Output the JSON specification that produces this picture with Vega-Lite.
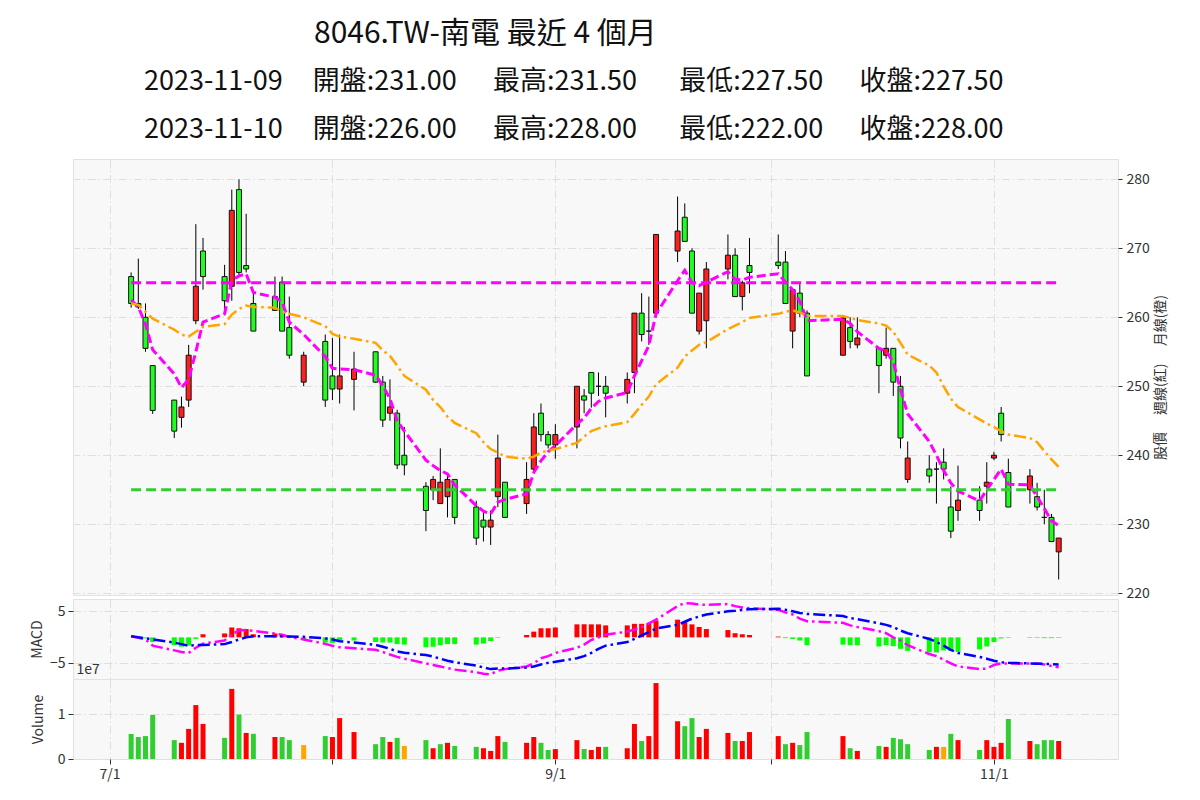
{
"$schema": "https://vega.github.io/schema/vega-lite/v6.json",
"background": "white",
"padding": {"left": 29, "top": 18, "right": 5, "bottom": 5},
"spacing": 4,
"bounds": "flush",
"resolve": {"scale": {"color": "independent"}},
"config": {
  "font": "Noto Sans CJK TC",
  "view": {"fill": "#f8f8f8", "stroke": "#e2e2e2"},
  "axis": {"gridColor": "#dedede", "gridDash": [8, 3, 1.5, 3], "gridWidth": 1, "labelFont": "Noto Sans CJK TC", "labelFontSize": 14, "labelColor": "#333333", "tickColor": "#333333", "tickSize": 5, "labelPadding": 3, "domain": false, "titleFont": "Noto Sans CJK TC", "titleFontWeight": "normal", "titleFontSize": 14, "titleColor": "#333333"},
  "concat": {"spacing": 0}
},
"title": {"text": "8046.TW-南電 最近 4 個月", "font": "Noto Sans CJK TC", "fontSize": 30, "fontWeight": "normal", "color": "#111111", "anchor": "start", "frame": "group", "dx": 241, "offset": 19},
"datasets": {
"k": [
{"d":"2023-07-04","o":265.9,"h":266.5,"l":261.4,"c":262.0,"v":5560000,"dir":"down","ma5":262.5,"ma20":262.0,"dif":0.2,"sig":0.2,"osc":0.0},
{"d":"2023-07-05","o":262.0,"h":268.5,"l":261.2,"c":261.5,"v":4900000,"dir":"down","ma5":261.5,"ma20":261.8,"dif":-0.1,"sig":0.0,"osc":-0.1},
{"d":"2023-07-06","o":260.0,"h":262.0,"l":255.0,"c":255.5,"v":5100000,"dir":"down","ma5":259.0,"ma20":260.8,"dif":-0.4,"sig":-0.2,"osc":-0.2},
{"d":"2023-07-07","o":253.0,"h":253.0,"l":246.0,"c":246.5,"v":9800000,"dir":"down","ma5":255.3,"ma20":259.8,"dif":-1.6,"sig":-0.4,"osc":-0.9},
{"d":"2023-07-10","o":248.0,"h":248.0,"l":242.5,"c":243.5,"v":4200000,"dir":"down","ma5":251.8,"ma20":258.2,"dif":-2.5,"sig":-1.0,"osc":-1.5},
{"d":"2023-07-11","o":245.5,"h":248.5,"l":244.0,"c":247.0,"v":3600000,"dir":"up","ma5":249.8,"ma20":257.5,"dif":-2.8,"sig":-1.3,"osc":-1.8},
{"d":"2023-07-12","o":248.0,"h":256.0,"l":247.0,"c":254.5,"v":6700000,"dir":"up","ma5":251.0,"ma20":257.2,"dif":-3.0,"sig":-1.6,"osc":-1.6},
{"d":"2023-07-13","o":259.5,"h":273.5,"l":259.0,"c":264.5,"v":12000000,"dir":"up","ma5":255.0,"ma20":257.9,"dif":-2.0,"sig":-1.5,"osc":-0.3},
{"d":"2023-07-14","o":269.6,"h":271.5,"l":264.0,"c":265.9,"v":7800000,"dir":"up","ma5":259.3,"ma20":258.6,"dif":-1.2,"sig":-1.45,"osc":0.6},
{"d":"2023-07-17","o":265.9,"h":267.6,"l":261.2,"c":262.4,"v":4700000,"dir":"down","ma5":260.5,"ma20":259.0,"dif":-0.6,"sig":-1.3,"osc":0.75},
{"d":"2023-07-18","o":264.5,"h":278.5,"l":262.4,"c":275.5,"v":15600000,"dir":"up","ma5":265.3,"ma20":260.4,"dif":0.6,"sig":-0.9,"osc":1.9},
{"d":"2023-07-19","o":278.5,"h":280.0,"l":266.0,"c":266.5,"v":9900000,"dir":"down","ma5":266.0,"ma20":261.2,"dif":1.3,"sig":-0.4,"osc":1.75},
{"d":"2023-07-20","o":267.5,"h":275.0,"l":266.5,"c":267.0,"v":5800000,"dir":"up","ma5":266.3,"ma20":261.7,"dif":1.4,"sig":0.0,"osc":1.6},
{"d":"2023-07-21","o":262.0,"h":264.0,"l":258.0,"c":258.0,"v":5600000,"dir":"down","ma5":263.6,"ma20":261.5,"dif":1.25,"sig":0.2,"osc":0.6},
{"d":"2023-07-24","o":263.0,"h":265.9,"l":261.0,"c":261.0,"v":4900000,"dir":"up","ma5":262.9,"ma20":261.4,"dif":0.75,"sig":0.2,"osc":0.75},
{"d":"2023-07-25","o":265.1,"h":265.9,"l":258.0,"c":258.0,"v":4900000,"dir":"down","ma5":262.2,"ma20":260.8,"dif":0.5,"sig":0.2,"osc":0.6},
{"d":"2023-07-26","o":258.5,"h":263.0,"l":254.0,"c":254.5,"v":4200000,"dir":"down","ma5":259.3,"ma20":260.5,"dif":0.1,"sig":0.15,"osc":0.05},
{"d":"2023-07-28","o":250.6,"h":255.0,"l":250.0,"c":254.5,"v":3100000,"dir":"flat","ma5":257.5,"ma20":260.0,"dif":-0.4,"sig":0.1,"osc":-0.45},
{"d":"2023-07-31","o":256.5,"h":257.5,"l":247.0,"c":248.0,"v":5100000,"dir":"down","ma5":254.3,"ma20":258.7,"dif":-1.25,"sig":-0.2,"osc":-1.0},
{"d":"2023-08-01","o":251.5,"h":257.0,"l":248.0,"c":249.6,"v":4900000,"dir":"up","ma5":252.6,"ma20":257.6,"dif":-1.6,"sig":-0.4,"osc":-1.1},
{"d":"2023-08-02","o":249.6,"h":257.5,"l":247.5,"c":251.5,"v":9100000,"dir":"up","ma5":252.5,"ma20":257.2,"dif":-1.9,"sig":-0.75,"osc":-0.9},
{"d":"2023-08-04","o":251.0,"h":255.0,"l":246.5,"c":252.5,"v":6000000,"dir":"up","ma5":252.4,"ma20":256.9,"dif":-2.1,"sig":-1.0,"osc":-0.6},
{"d":"2023-08-07","o":255.0,"h":255.0,"l":250.5,"c":250.6,"v":3300000,"dir":"down","ma5":251.6,"ma20":256.3,"dif":-2.4,"sig":-1.45,"osc":-0.9},
{"d":"2023-08-08","o":250.6,"h":251.5,"l":244.1,"c":245.1,"v":4900000,"dir":"down","ma5":250.1,"ma20":255.2,"dif":-2.8,"sig":-1.8,"osc":-1.0},
{"d":"2023-08-09","o":246.1,"h":251.0,"l":245.0,"c":247.0,"v":3800000,"dir":"up","ma5":248.2,"ma20":254.4,"dif":-3.3,"sig":-2.2,"osc":-1.0},
{"d":"2023-08-10","o":246.1,"h":246.6,"l":238.0,"c":238.6,"v":4700000,"dir":"down","ma5":245.0,"ma20":253.0,"dif":-3.75,"sig":-2.7,"osc":-1.3},
{"d":"2023-08-11","o":240.0,"h":244.1,"l":237.1,"c":238.6,"v":2900000,"dir":"flat","ma5":243.5,"ma20":251.5,"dif":-4.1,"sig":-2.95,"osc":-1.4},
{"d":"2023-08-14","o":235.5,"h":236.1,"l":229.0,"c":232.0,"v":4200000,"dir":"down","ma5":239.3,"ma20":249.5,"dif":-5.0,"sig":-3.4,"osc":-1.9},
{"d":"2023-08-15","o":235.0,"h":237.0,"l":233.5,"c":236.5,"v":2400000,"dir":"up","ma5":238.5,"ma20":248.0,"dif":-5.3,"sig":-3.7,"osc":-1.8},
{"d":"2023-08-16","o":233.0,"h":241.0,"l":233.0,"c":236.1,"v":3300000,"dir":"down","ma5":237.8,"ma20":247.0,"dif":-5.6,"sig":-4.1,"osc":-1.5},
{"d":"2023-08-17","o":234.0,"h":237.0,"l":231.0,"c":236.5,"v":3600000,"dir":"up","ma5":237.3,"ma20":245.6,"dif":-5.9,"sig":-4.5,"osc":-1.3},
{"d":"2023-08-18","o":236.5,"h":236.5,"l":230.0,"c":231.0,"v":2900000,"dir":"down","ma5":235.7,"ma20":244.7,"dif":-6.2,"sig":-4.8,"osc":-1.3},
{"d":"2023-08-21","o":232.5,"h":233.4,"l":227.0,"c":228.0,"v":2700000,"dir":"down","ma5":232.7,"ma20":243.2,"dif":-6.7,"sig":-5.4,"osc":-1.4},
{"d":"2023-08-22","o":230.6,"h":232.0,"l":227.5,"c":229.6,"v":2400000,"dir":"up","ma5":231.9,"ma20":241.9,"dif":-7.0,"sig":-5.8,"osc":-1.2},
{"d":"2023-08-23","o":229.6,"h":232.0,"l":227.0,"c":230.6,"v":1800000,"dir":"up","ma5":231.5,"ma20":240.9,"dif":-7.1,"sig":-6.1,"osc":-0.7},
{"d":"2023-08-24","o":234.0,"h":243.0,"l":232.5,"c":239.6,"v":5100000,"dir":"up","ma5":233.2,"ma20":240.4,"dif":-6.4,"sig":-6.0,"osc":-0.1},
{"d":"2023-08-25","o":236.1,"h":236.1,"l":231.0,"c":231.0,"v":3800000,"dir":"down","ma5":233.6,"ma20":239.8,"dif":-6.1,"sig":-6.0,"osc":0.0},
{"d":"2023-08-28","o":233.0,"h":239.0,"l":231.5,"c":236.5,"v":3600000,"dir":"up","ma5":234.4,"ma20":239.5,"dif":-5.6,"sig":-5.8,"osc":0.45},
{"d":"2023-08-29","o":238.0,"h":246.1,"l":237.5,"c":244.1,"v":4900000,"dir":"up","ma5":237.5,"ma20":239.8,"dif":-5.0,"sig":-5.6,"osc":1.1},
{"d":"2023-08-30","o":246.1,"h":247.5,"l":242.0,"c":243.0,"v":3600000,"dir":"down","ma5":239.2,"ma20":240.4,"dif":-4.0,"sig":-5.2,"osc":1.75},
{"d":"2023-08-31","o":243.0,"h":243.5,"l":241.0,"c":241.5,"v":2000000,"dir":"down","ma5":240.5,"ma20":240.7,"dif":-3.6,"sig":-4.9,"osc":1.75},
{"d":"2023-09-01","o":241.5,"h":244.5,"l":239.5,"c":243.0,"v":2200000,"dir":"up","ma5":241.4,"ma20":240.9,"dif":-3.0,"sig":-4.7,"osc":1.9},
{"d":"2023-09-04","o":244.1,"h":250.0,"l":241.0,"c":250.0,"v":4200000,"dir":"up","ma5":244.5,"ma20":241.8,"dif":-2.0,"sig":-4.0,"osc":2.5},
{"d":"2023-09-05","o":248.6,"h":249.6,"l":246.1,"c":248.0,"v":2200000,"dir":"down","ma5":245.4,"ma20":242.7,"dif":-1.4,"sig":-3.6,"osc":2.5},
{"d":"2023-09-06","o":252.0,"h":252.0,"l":246.9,"c":249.0,"v":2000000,"dir":"up","ma5":246.8,"ma20":243.5,"dif":-0.5,"sig":-3.0,"osc":2.5},
{"d":"2023-09-07","o":250.0,"h":252.0,"l":248.6,"c":250.0,"v":2700000,"dir":"up","ma5":247.8,"ma20":243.9,"dif":0.0,"sig":-2.2,"osc":2.5},
{"d":"2023-09-08","o":250.0,"h":251.5,"l":245.5,"c":249.0,"v":2700000,"dir":"down","ma5":248.3,"ma20":244.2,"dif":0.5,"sig":-1.6,"osc":2.3},
{"d":"2023-09-11","o":249.0,"h":252.0,"l":247.5,"c":251.0,"v":2400000,"dir":"up","ma5":249.1,"ma20":244.8,"dif":1.1,"sig":-0.9,"osc":2.3},
{"d":"2023-09-12","o":252.0,"h":260.6,"l":249.0,"c":260.6,"v":7800000,"dir":"up","ma5":251.5,"ma20":246.0,"dif":1.5,"sig":-0.3,"osc":2.6},
{"d":"2023-09-13","o":260.6,"h":263.5,"l":256.5,"c":257.5,"v":4000000,"dir":"down","ma5":253.7,"ma20":247.3,"dif":2.0,"sig":0.4,"osc":2.6},
{"d":"2023-09-14","o":258.0,"h":263.0,"l":256.0,"c":258.0,"v":5100000,"dir":"up","ma5":255.9,"ma20":248.5,"dif":2.7,"sig":1.0,"osc":2.75},
{"d":"2023-09-15","o":260.6,"h":272.0,"l":260.0,"c":272.0,"v":16900000,"dir":"up","ma5":260.5,"ma20":250.3,"dif":3.4,"sig":1.7,"osc":3.25},
{"d":"2023-09-18","o":269.6,"h":277.5,"l":268.0,"c":272.5,"v":8400000,"dir":"up","ma5":265.3,"ma20":252.7,"dif":6.0,"sig":2.4,"osc":3.4},
{"d":"2023-09-19","o":274.5,"h":276.5,"l":271.0,"c":271.0,"v":7300000,"dir":"down","ma5":266.8,"ma20":254.3,"dif":6.6,"sig":3.0,"osc":3.1},
{"d":"2023-09-20","o":269.6,"h":270.0,"l":260.6,"c":260.6,"v":9100000,"dir":"down","ma5":265.0,"ma20":255.2,"dif":6.5,"sig":3.6,"osc":2.5},
{"d":"2023-09-21","o":258.0,"h":263.5,"l":257.5,"c":263.5,"v":4900000,"dir":"up","ma5":264.6,"ma20":256.0,"dif":6.3,"sig":4.0,"osc":2.0},
{"d":"2023-09-22","o":259.5,"h":268.0,"l":255.5,"c":267.0,"v":6700000,"dir":"up","ma5":265.1,"ma20":256.4,"dif":6.25,"sig":4.4,"osc":1.6},
{"d":"2023-09-25","o":267.0,"h":272.0,"l":265.5,"c":269.0,"v":5800000,"dir":"up","ma5":266.6,"ma20":258.3,"dif":6.4,"sig":5.0,"osc":1.4},
{"d":"2023-09-26","o":269.0,"h":270.0,"l":263.0,"c":263.0,"v":4000000,"dir":"down","ma5":265.5,"ma20":258.8,"dif":6.0,"sig":5.1,"osc":0.8},
{"d":"2023-09-27","o":263.0,"h":265.3,"l":261.0,"c":265.0,"v":4000000,"dir":"up","ma5":265.4,"ma20":259.3,"dif":5.75,"sig":5.3,"osc":0.6},
{"d":"2023-09-28","o":267.5,"h":271.5,"l":263.5,"c":266.5,"v":6000000,"dir":"up","ma5":265.8,"ma20":259.9,"dif":5.6,"sig":5.4,"osc":0.45},
{"d":"2023-10-02","o":268.0,"h":272.0,"l":267.0,"c":267.5,"v":5100000,"dir":"up","ma5":266.3,"ma20":260.5,"dif":5.3,"sig":5.5,"osc":0.15},
{"d":"2023-10-03","o":268.0,"h":269.6,"l":262.0,"c":262.0,"v":3300000,"dir":"down","ma5":265.1,"ma20":260.8,"dif":4.8,"sig":5.3,"osc":-0.15},
{"d":"2023-10-04","o":258.0,"h":264.0,"l":255.5,"c":264.0,"v":3600000,"dir":"up","ma5":264.0,"ma20":261.0,"dif":4.4,"sig":5.0,"osc":-0.3},
{"d":"2023-10-05","o":263.5,"h":265.0,"l":260.0,"c":260.6,"v":3100000,"dir":"down","ma5":262.3,"ma20":260.7,"dif":3.6,"sig":4.7,"osc":-0.6},
{"d":"2023-10-06","o":260.6,"h":261.0,"l":251.5,"c":251.5,"v":6000000,"dir":"down","ma5":259.5,"ma20":260.2,"dif":3.1,"sig":4.5,"osc":-1.5},
{"d":"2023-10-11","o":254.5,"h":260.0,"l":254.5,"c":259.9,"v":5100000,"dir":"up","ma5":259.7,"ma20":260.2,"dif":2.8,"sig":4.1,"osc":-1.4},
{"d":"2023-10-12","o":258.5,"h":260.0,"l":255.5,"c":256.5,"v":2400000,"dir":"down","ma5":259.1,"ma20":259.9,"dif":2.3,"sig":3.7,"osc":-1.5},
{"d":"2023-10-13","o":256.0,"h":260.0,"l":255.5,"c":257.0,"v":1800000,"dir":"up","ma5":257.9,"ma20":259.6,"dif":2.0,"sig":3.5,"osc":-1.5},
{"d":"2023-10-16","o":255.5,"h":255.5,"l":249.0,"c":253.0,"v":2900000,"dir":"down","ma5":255.5,"ma20":259.1,"dif":1.2,"sig":2.7,"osc":-1.75},
{"d":"2023-10-17","o":254.5,"h":258.5,"l":254.0,"c":255.5,"v":2700000,"dir":"up","ma5":255.1,"ma20":258.8,"dif":0.8,"sig":2.4,"osc":-1.5},
{"d":"2023-10-18","o":255.5,"h":255.5,"l":248.6,"c":250.6,"v":4700000,"dir":"down","ma5":253.5,"ma20":257.9,"dif":0.0,"sig":2.0,"osc":-1.7},
{"d":"2023-10-19","o":250.0,"h":251.5,"l":241.0,"c":242.5,"v":4400000,"dir":"down","ma5":249.5,"ma20":256.3,"dif":-0.6,"sig":1.3,"osc":-2.2},
{"d":"2023-10-20","o":236.5,"h":242.0,"l":236.0,"c":239.6,"v":3300000,"dir":"down","ma5":246.0,"ma20":254.6,"dif":-1.5,"sig":0.8,"osc":-2.6},
{"d":"2023-10-23","o":238.0,"h":240.0,"l":236.0,"c":237.0,"v":2000000,"dir":"down","ma5":242.0,"ma20":253.0,"dif":-3.2,"sig":-0.3,"osc":-2.9},
{"d":"2023-10-24","o":238.0,"h":239.0,"l":233.0,"c":238.0,"v":2700000,"dir":"up","ma5":240.0,"ma20":252.0,"dif":-3.6,"sig":-0.9,"osc":-2.9},
{"d":"2023-10-25","o":239.0,"h":241.0,"l":236.5,"c":238.0,"v":2700000,"dir":"flat","ma5":237.8,"ma20":250.0,"dif":-4.3,"sig":-1.6,"osc":-2.5},
{"d":"2023-10-26","o":232.5,"h":235.5,"l":228.0,"c":229.0,"v":5600000,"dir":"down","ma5":236.0,"ma20":248.2,"dif":-5.0,"sig":-2.4,"osc":-2.6},
{"d":"2023-10-27","o":232.0,"h":238.5,"l":230.5,"c":233.5,"v":4200000,"dir":"up","ma5":234.8,"ma20":247.0,"dif":-5.6,"sig":-3.0,"osc":-2.8},
{"d":"2023-10-30","o":233.5,"h":235.5,"l":230.5,"c":232.0,"v":2000000,"dir":"down","ma5":233.4,"ma20":245.2,"dif":-6.1,"sig":-3.75,"osc":-2.3},
{"d":"2023-10-31","o":235.5,"h":239.0,"l":233.0,"c":236.1,"v":4200000,"dir":"up","ma5":235.0,"ma20":244.6,"dif":-6.0,"sig":-4.1,"osc":-1.75},
{"d":"2023-11-01","o":239.6,"h":240.5,"l":239.3,"c":240.0,"v":2700000,"dir":"up","ma5":236.5,"ma20":244.1,"dif":-5.3,"sig":-4.5,"osc":-0.9},
{"d":"2023-11-02","o":246.1,"h":247.0,"l":242.0,"c":243.0,"v":3600000,"dir":"up","ma5":238.0,"ma20":243.5,"dif":-5.0,"sig":-4.8,"osc":-0.2},
{"d":"2023-11-03","o":237.5,"h":239.5,"l":232.5,"c":232.5,"v":8900000,"dir":"down","ma5":235.8,"ma20":243.0,"dif":-5.0,"sig":-4.9,"osc":-0.1},
{"d":"2023-11-06","o":235.0,"h":238.0,"l":233.0,"c":237.0,"v":4000000,"dir":"up","ma5":235.7,"ma20":242.5,"dif":-5.0,"sig":-5.0,"osc":-0.1},
{"d":"2023-11-07","o":234.0,"h":236.0,"l":232.0,"c":232.5,"v":3300000,"dir":"down","ma5":234.0,"ma20":241.9,"dif":-5.0,"sig":-5.05,"osc":-0.1},
{"d":"2023-11-08","o":231.0,"h":235.0,"l":230.0,"c":231.0,"v":4200000,"dir":"down","ma5":232.3,"ma20":240.6,"dif":-5.2,"sig":-5.1,"osc":-0.15},
{"d":"2023-11-09","o":231.0,"h":231.5,"l":227.5,"c":227.5,"v":4200000,"dir":"down","ma5":230.5,"ma20":239.4,"dif":-5.5,"sig":-5.15,"osc":-0.15},
{"d":"2023-11-10","o":226.0,"h":228.0,"l":222.0,"c":228.0,"v":4000000,"dir":"up","ma5":229.8,"ma20":238.3,"dif":-5.75,"sig":-5.2,"osc":-0.1}
],
"levels": [
{"s":"2023-07-04","e":"2023-11-10","lv":265,"kind":"high"},
{"s":"2023-07-04","e":"2023-11-10","lv":235,"kind":"low"}
]
},
"vconcat": [
{
  "width": 1045, "height": 436,
  "title": {"text": ["2023-11-09\u00a0\u00a0\u00a0\u00a0\u00a0開盤:231.00\u00a0\u00a0\u00a0\u00a0\u00a0\u00a0最高:231.50\u00a0\u00a0\u00a0\u00a0\u00a0\u00a0\u00a0最低:227.50\u00a0\u00a0\u00a0\u00a0\u00a0\u00a0收盤:227.50", "2023-11-10\u00a0\u00a0\u00a0\u00a0\u00a0開盤:226.00\u00a0\u00a0\u00a0\u00a0\u00a0\u00a0最高:228.00\u00a0\u00a0\u00a0\u00a0\u00a0\u00a0\u00a0最低:222.00\u00a0\u00a0\u00a0\u00a0\u00a0\u00a0收盤:228.00"], "font": "Noto Sans CJK TC", "fontSize": 27, "fontWeight": "normal", "color": "#111111", "anchor": "start", "frame": "group", "dx": 71, "lineHeight": 48, "offset": 15},
  "data": {"name": "k"},
  "encoding": {
    "x": {"field": "d", "type": "temporal",
      "scale": {"type": "utc", "padding": 0, "domain": [{"year": 2023, "month": 6, "date": 25, "hours": 22, "utc": true}, {"year": 2023, "month": 11, "date": 18, "hours": 6, "utc": true}]},
      "axis": {"values": [{"year": 2023, "month": 7, "date": 1, "utc": true}, {"year": 2023, "month": 8, "date": 1, "utc": true}, {"year": 2023, "month": 9, "date": 1, "utc": true}, {"year": 2023, "month": 10, "date": 1, "utc": true}, {"year": 2023, "month": 11, "date": 1, "utc": true}], "labels": false, "ticks": false, "tickSize": 0, "labelPadding": 0, "minExtent": 0, "maxExtent": 0, "title": null, "grid": true}}
  },
  "layer": [
    {"mark": {"type": "rule", "color": "#000000", "strokeWidth": 1},
     "encoding": {
       "y": {"field": "l", "type": "quantitative", "scale": {"domain": [219.75, 282.94], "nice": false, "zero": false, "padding": 0},
         "axis": {"orient": "right", "values": [220, 230, 240, 250, 260, 270, 280], "grid": true, "title": "股價\u3000 週線(紅)\u3000 月線(橙)", "titleAngle": 270, "titleBaseline": "top", "titleAlign": "center", "titlePadding": 4, "tickSize": 4, "labelPadding": 4}},
       "y2": {"field": "h"}}},
    {"mark": {"type": "bar", "size": 5, "stroke": "#111111", "strokeWidth": 1},
     "encoding": {
       "y": {"field": "o", "type": "quantitative"},
       "y2": {"field": "c"},
       "color": {"condition": {"test": "datum.c >= datum.o", "value": "#ff1f1f"}, "value": "#1fff1f"}}},
    {"mark": {"type": "line", "color": "#ff00ff", "strokeWidth": 3, "strokeDash": [9, 4]},
     "encoding": {"y": {"field": "ma5", "type": "quantitative"}}},
    {"mark": {"type": "line", "color": "#ffa500", "strokeWidth": 2.5, "strokeDash": [12, 4, 2.5, 4]},
     "encoding": {"y": {"field": "ma20", "type": "quantitative"}}},
    {"data": {"name": "levels"},
     "mark": {"type": "rule", "strokeWidth": 3, "strokeDash": [10, 5]},
     "encoding": {
       "x": {"field": "s", "type": "temporal"},
       "x2": {"field": "e"},
       "y": {"field": "lv", "type": "quantitative"},
       "color": {"field": "kind", "type": "nominal", "scale": {"domain": ["high", "low"], "range": ["#ff00ff", "#32cd32"]}, "legend": null}}}
  ]
},
{
  "spacing": 0,
  "bounds": "flush",
  "resolve": {"scale": {"color": "independent"}},
  "vconcat": [
  {
    "width": 1045, "height": 80,
    "data": {"name": "k"},
    "encoding": {
      "x": {"field": "d", "type": "temporal",
        "scale": {"type": "utc", "padding": 0, "domain": [{"year": 2023, "month": 6, "date": 25, "hours": 22, "utc": true}, {"year": 2023, "month": 11, "date": 18, "hours": 6, "utc": true}]},
        "axis": {"values": [{"year": 2023, "month": 7, "date": 1, "utc": true}, {"year": 2023, "month": 8, "date": 1, "utc": true}, {"year": 2023, "month": 9, "date": 1, "utc": true}, {"year": 2023, "month": 10, "date": 1, "utc": true}, {"year": 2023, "month": 11, "date": 1, "utc": true}], "labels": false, "ticks": false, "tickSize": 0, "labelPadding": 0, "minExtent": 0, "maxExtent": 0, "grid": true, "title": "1e7", "titleX": 3, "titleY": -3, "titleAlign": "left", "titleBaseline": "bottom", "titleAngle": 0, "titlePadding": 0, "titleFontSize": 14}}
    },
    "layer": [
      {"mark": {"type": "bar", "size": 5},
       "encoding": {
         "y": {"field": "osc", "type": "quantitative", "scale": {"domain": [-8.0, 7.37], "nice": false, "zero": false, "padding": 0},
           "axis": {"values": [-5, 0, 5], "grid": true, "title": "MACD", "titlePadding": 5}},
         "y2": {"datum": 0},
         "color": {"condition": {"test": "datum.osc >= 0", "value": "#ff0000"}, "value": "#00ff00"}}},
      {"mark": {"type": "line", "color": "#ff00ff", "strokeWidth": 2.5, "strokeDash": [12, 4, 2.5, 4]},
       "encoding": {"y": {"field": "dif", "type": "quantitative"}}},
      {"mark": {"type": "line", "color": "#0000ff", "strokeWidth": 2.5, "strokeDash": [12, 4, 2.5, 4]},
       "encoding": {"y": {"field": "sig", "type": "quantitative"}}}
    ]
  },
  {
    "width": 1045, "height": 80,
    "data": {"name": "k"},
    "mark": {"type": "bar", "size": 5},
    "encoding": {
      "x": {"field": "d", "type": "temporal",
        "scale": {"type": "utc", "padding": 0, "domain": [{"year": 2023, "month": 6, "date": 25, "hours": 22, "utc": true}, {"year": 2023, "month": 11, "date": 18, "hours": 6, "utc": true}]},
        "axis": {"values": [{"year": 2023, "month": 7, "date": 1, "utc": true}, {"year": 2023, "month": 8, "date": 1, "utc": true}, {"year": 2023, "month": 9, "date": 1, "utc": true}, {"year": 2023, "month": 10, "date": 1, "utc": true}, {"year": 2023, "month": 11, "date": 1, "utc": true}], "format": "%-m/%-d", "labelExpr": "utcmonth(datum.value) % 2 == 0 ? datum.label : ''", "grid": true, "title": null}},
      "y": {"field": "v", "type": "quantitative", "scale": {"domain": [0, 17800000], "nice": false, "padding": 0},
        "axis": {"values": [0, 10000000], "labelExpr": "datum.value / 10000000", "grid": true, "title": "Volume", "titlePadding": 12}},
      "color": {"field": "dir", "type": "nominal", "scale": {"domain": ["up", "down", "flat"], "range": ["#ff0000", "#32cd32", "#ffa500"]}, "legend": null}
    }
  }
  ]
}
]
}
